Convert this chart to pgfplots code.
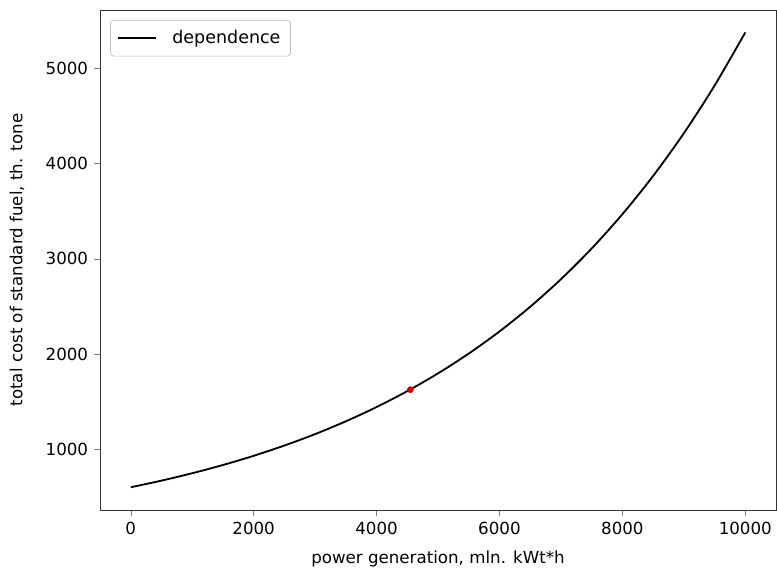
\documentclass[border=0pt]{standalone}
\usepackage{fontspec}
\setmainfont{DejaVu Sans}
\usepackage{pgfplots}
\pgfplotsset{compat=1.18}

\begin{document}
\begin{tikzpicture}
\begin{axis}[
  name=ax,
  scale only axis,
  width=405.6pt, height=300pt,
  xmin=-500, xmax=10500, ymin=361, ymax=5614,
  xtick={0,2000,...,10000}, ytick={1000,2000,...,5000},
  xtick pos=bottom, ytick pos=left,
  tick align=outside, major tick length=3.6pt,
  scaled ticks=false,
  /pgf/number format/assume math mode=true,
  /pgf/number format/1000 sep={},
  tick label style={font=\fontsize{10}{12}\selectfont},
  label style={font=\fontsize{10}{12}\selectfont},
  xlabel={power generation, mln. kWt*h},
  ylabel={total cost of standard fuel, th. tone},
  xlabel style={yshift=-3pt},
  ylabel style={yshift=6pt},
  axis line style={black!80},
  legend style={at={(0.015,0.98)}, anchor=north west, draw=black!25, rounded corners=2pt,
    font=\fontsize{10.5}{12}\selectfont, inner xsep=4pt, inner ysep=4pt,
    /tikz/every odd column/.append style={column sep=7pt}},
  legend cell align=left,
  legend image code/.code={\draw[line width=1.1pt] (0pt,0pt) -- (23pt,0pt);},
]
\addplot[black, line width=1.1pt, smooth] coordinates {
 (0,600) (500,669.5) (1000,747.1) (1500,833.7) (2000,930.3) (2500,1038.1)
 (3000,1158.4) (3500,1292.7) (4000,1442.5) (4500,1609.7) (5000,1796.2)
 (5500,2004.4) (6000,2236.7) (6500,2495.9) (7000,2785.2) (7500,3108.0)
 (8000,3468.2) (8500,3870.2) (9000,4318.7) (9500,4819.2) (10000,5377.7)
};
\addlegendentry{dependence}
\addplot[only marks, mark=*, mark size=1.8pt, color=red!80!black, forget plot] coordinates {(4550,1625)};
\end{axis}
\pgfresetboundingbox
\path ([xshift=-60pt,yshift=-34.8pt]ax.south west) rectangle ([xshift=0.6pt,yshift=6pt]ax.north east);
\end{tikzpicture}
\end{document}
